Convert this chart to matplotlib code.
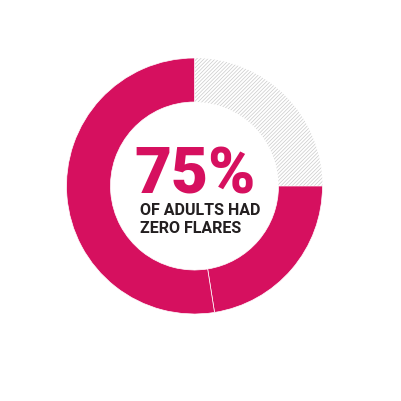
import matplotlib.pyplot as plt

# share of adults (clockwise from the top): no-zero-flares part, then the two magenta pieces
shares = [25, 22.5, 52.5]
slice_colors = ['white', '#d6105f', '#d6105f']
headline = '75%'
caption = ['OF ADULTS HAD', 'ZERO FLARES']

magenta = '#d6105f'
dark = '#231f20'

plt.rcParams['hatch.linewidth'] = 0.5

fig = plt.figure(figsize=(4.01, 4.01), dpi=100)
ax = fig.add_axes([0, 0, 1, 1])

wedges, _ = ax.pie(shares, colors=slice_colors, startangle=90, counterclock=False,
                   center=(194.5, 215), radius=128, frame=True,
                   wedgeprops=dict(width=44, edgecolor='white', linewidth=0.5))
wedges[0].set_hatch('/////////')
wedges[0].set_edgecolor('#cacaca')
wedges[0].set_linewidth(0)

ax.set_xlim(0, 401)
ax.set_ylim(0, 401)
ax.set_aspect('equal')
ax.axis('off')

ax.text(134, 208, headline, color=magenta, fontsize=46, fontweight=900,
        family=['Roboto', 'DejaVu Sans'], ha='left', va='baseline')
ax.text(140, 186, caption[0], color=dark, fontsize=11.5, fontweight='bold',
        family=['Liberation Sans Narrow', 'Roboto', 'DejaVu Sans'], ha='left', va='baseline')
ax.text(140, 168, caption[1], color=dark, fontsize=11.5, fontweight='bold',
        family=['Liberation Sans Narrow', 'Roboto', 'DejaVu Sans'], ha='left', va='baseline')

fig.savefig('out.png', dpi=100)
